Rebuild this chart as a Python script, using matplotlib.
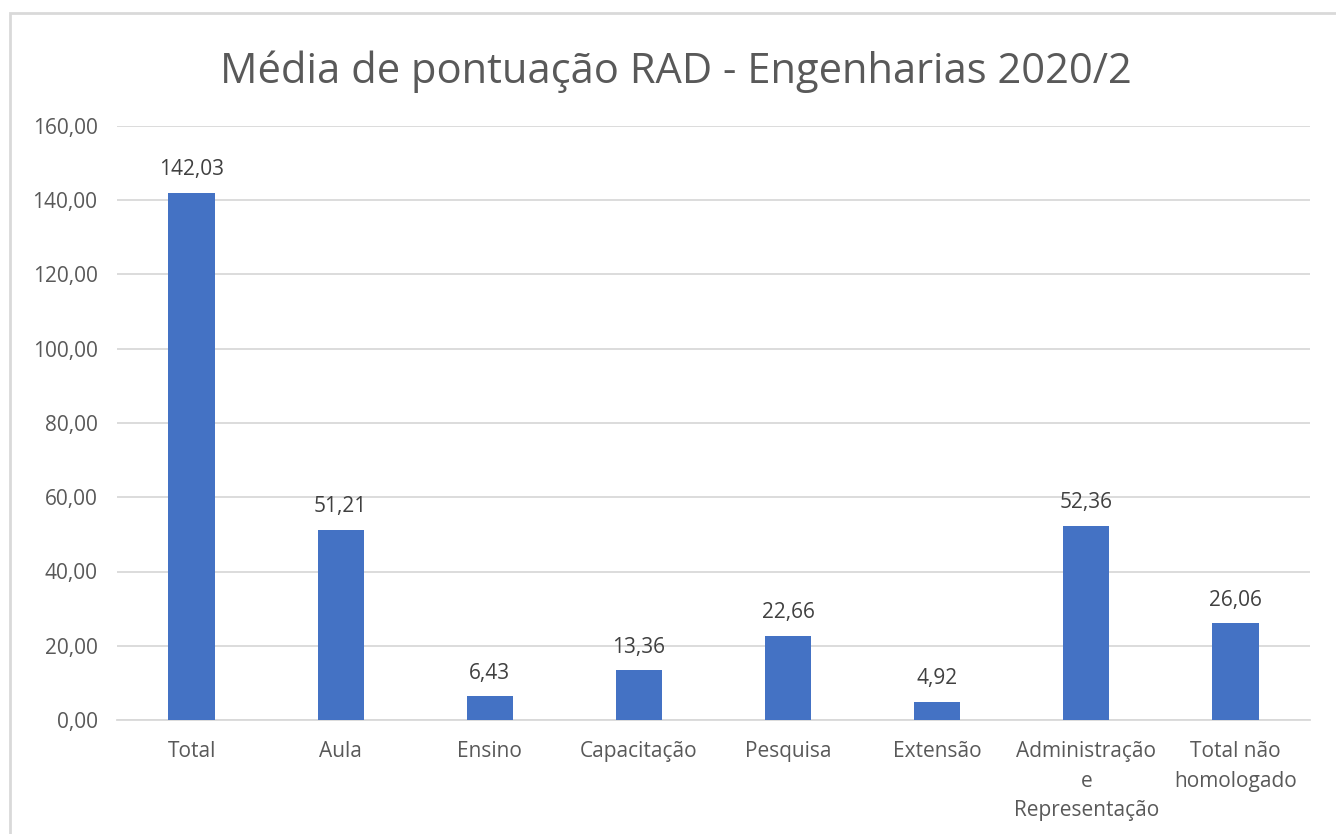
import matplotlib
matplotlib.use("Agg")
import matplotlib.pyplot as plt
from matplotlib.patches import Rectangle

categories = ['Total', 'Aula', 'Ensino', 'Capacitação', 'Pesquisa', 'Extensão',
              'Administração\ne\nRepresentação', 'Total não\nhomologado']
values = [142.03, 51.21, 6.43, 13.36, 22.66, 4.92, 52.36, 26.06]
yticks = [0, 20, 40, 60, 80, 100, 120, 140, 160]

plt.rcParams['font.family'] = ['Open Sans', 'DejaVu Sans']
text_color = '#595959'
grid_color = '#d9d9d9'

fig = plt.figure(figsize=(13.36, 8.34), dpi=100)
ax = fig.add_axes([117 / 1336, 1 - 720 / 834, 1193 / 1336, 594 / 834])

# outer chart border (cut off at right and bottom like the screenshot)
fig.patches.append(Rectangle((10 / 1336, -0.05), 1.1, 1 - 13 / 834 + 0.05,
                             transform=fig.transFigure, fill=False,
                             edgecolor=grid_color, linewidth=2))

x = range(len(categories))
bars = ax.bar(x, values, width=0.31, color='#4472C4', zorder=3)

for xi, v in zip(x, values):
    ax.annotate(f"{v:.2f}".replace('.', ','), xy=(xi, v), xytext=(0, 9),
                textcoords='offset points', ha='center', va='bottom',
                fontsize=15, color='#404040')

ax.set_xlim(-0.5, len(categories) - 0.5)
ax.set_ylim(0, 160)
ax.set_yticks(yticks)
ax.set_yticklabels([f"{t:.2f}".replace('.', ',') for t in yticks])
ax.set_xticks(list(x))
ax.set_xticklabels(categories, linespacing=1.55)

ax.grid(axis='y', color=grid_color, linewidth=1.3, zorder=0)
for side in ['top', 'right', 'left']:
    ax.spines[side].set_visible(False)
ax.spines['bottom'].set_color(grid_color)
ax.spines['bottom'].set_linewidth(1.3)
ax.tick_params(axis='both', length=0, labelsize=15, colors=text_color)
ax.tick_params(axis='y', pad=14)
ax.tick_params(axis='x', pad=15)

fig.text(676 / 1336, 1 - 72 / 834, 'Média de pontuação RAD - Engenharias 2020/2',
         ha='center', va='center', fontsize=30, color=text_color)

fig.savefig('out.png', dpi=100, facecolor='white')
